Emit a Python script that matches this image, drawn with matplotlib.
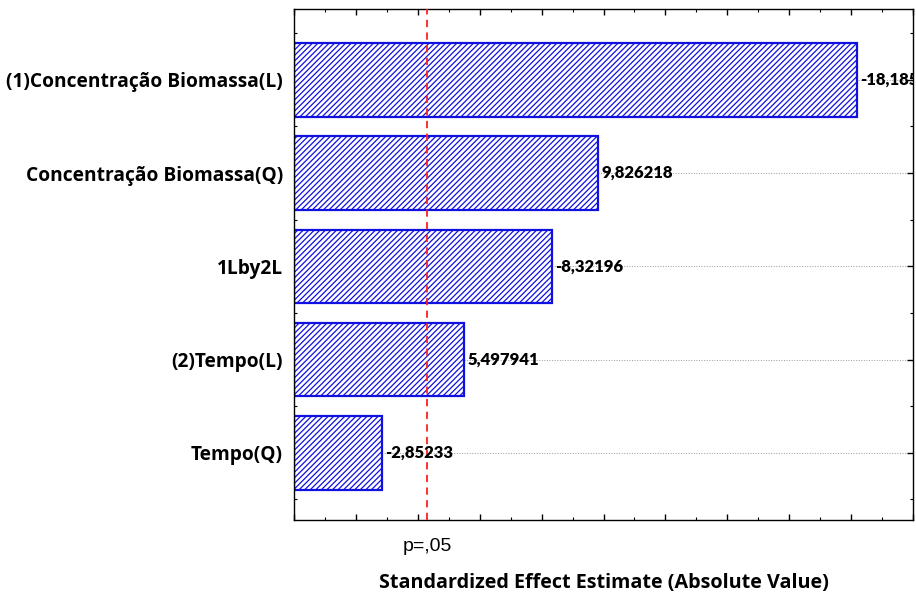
import numpy as np
import matplotlib.pyplot as plt
from matplotlib.ticker import MultipleLocator

# efeitos padronizados (Pareto)
fatores = ["Tempo(Q)", "(2)Tempo(L)", "1Lby2L",
           "Concentração Biomassa(Q)", "(1)Concentração Biomassa(L)"]
efeitos = [-2.85233, 5.497941, -8.32196, 9.826218, -18.1854]
rotulos = ["-2,85233", "5,497941", "-8,32196", "9,826218", "-18,1854"]
t_crit = 4.303  # p=,05

plt.rcParams['font.family'] = ['Lato', 'DejaVu Sans']
plt.rcParams['hatch.linewidth'] = 0.9

fig = plt.figure(figsize=(9.16, 5.97), dpi=100)
ax = fig.add_axes([0.321, 0.129, 0.6757, 0.856])

y = np.arange(len(fatores))
ax.grid(axis='y', color='#999999', ls=':', lw=0.7, zorder=0)
ax.barh(y, np.abs(efeitos), height=0.79, color='white', edgecolor='#1010e0',
        hatch='//////', lw=1.6, zorder=2)

for yi, v, s in zip(y, efeitos, rotulos):
    ax.text(abs(v) + 0.1, yi, s, va='center', ha='left', fontsize=12,
            fontweight='heavy', clip_on=True, zorder=4)

ax.axvline(t_crit, color='#ff2020', ls=(0, (4, 3)), lw=1.3, zorder=3)

ax.set_xlim(0, 20)
ax.set_ylim(-0.72, 4.76)
ax.set_yticks(y)
ax.set_yticklabels(fatores, fontsize=13.8, fontweight='bold', family='Open Sans')
ax.yaxis.set_minor_locator(MultipleLocator(0.5))
ax.set_xticks([2 * i for i in range(11)])
ax.set_xticklabels([])
ax.xaxis.set_minor_locator(MultipleLocator(1))
ax.tick_params(which='both', direction='in', top=True, right=True)
ax.tick_params(which='major', length=4, width=1)
ax.tick_params(which='minor', length=2, width=0.8)
ax.tick_params(axis='y', which='major', pad=8)
for sp in ax.spines.values():
    sp.set_linewidth(1.0)

ax.text(t_crit, -1.0, "p=,05", ha='center', va='center', fontsize=14,
        family='Liberation Sans')
ax.set_xlabel("Standardized Effect Estimate (Absolute Value)", fontsize=14.2,
              fontweight='bold', family='Open Sans', labelpad=35)

fig.savefig("out.png", dpi=100)
